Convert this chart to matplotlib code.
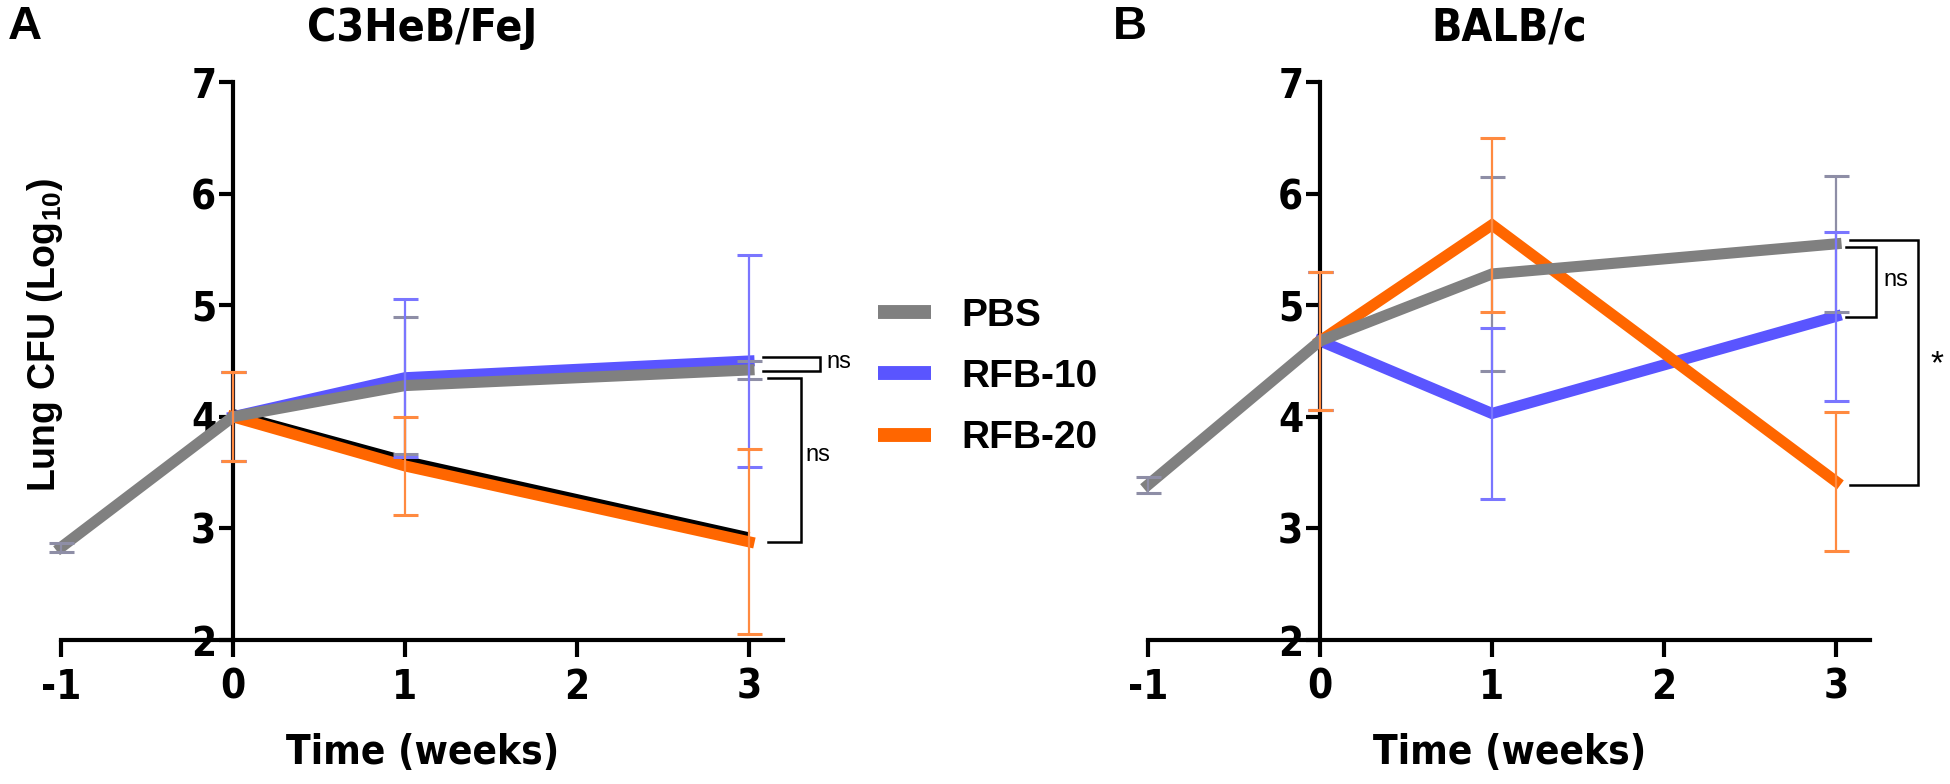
import matplotlib
matplotlib.use("Agg")
import matplotlib.pyplot as plt
from matplotlib import font_manager as fm
from matplotlib.lines import Line2D

# ---------------- data ----------------
groups = ["PBS", "RFB-10", "RFB-20"]
weeks_pbs = [-1, 0, 1, 3]
weeks_trt = [0, 1, 3]
x_ticks = [-1, 0, 1, 2, 3]
y_ticks = [2, 3, 4, 5, 6, 7]

# Panel A: C3HeB/FeJ
a_pbs_mean = [2.83, 4.00, 4.28, 4.42]
a_pbs_sd = [0.04, 0.40, 0.61, 0.08]
a_rfb10_mean = [4.00, 4.35, 4.50]
a_rfb10_sd = [0.40, 0.71, 0.95]
a_rfb20_mean = [4.00, 3.56, 2.88]
a_rfb20_sd = [0.40, 0.44, 0.83]
a_extra_mean = [4.02, 3.60, 2.915]  # thin black trace seen just above RFB-20

# Panel B: BALB/c
b_pbs_mean = [3.39, 4.68, 5.28, 5.55]
b_pbs_sd = [0.07, 0.62, 0.87, 0.61]
b_rfb10_mean = [4.68, 4.03, 4.90]
b_rfb10_sd = [0.62, 0.77, 0.76]
b_rfb20_mean = [4.68, 5.72, 3.42]
b_rfb20_sd = [0.62, 0.78, 0.62]

# significance brackets: (x_inner, x_outer, y_top, y_bottom, label, label_x, label_y)
a_brackets = [(3.08, 3.41, 4.54, 4.41, "ns", 3.45, 4.49),
              (3.11, 3.30, 4.35, 2.88, "ns", 3.33, 3.66)]
b_brackets = [(3.06, 3.23, 5.52, 4.89, "ns", 3.275, 5.23),
              (3.08, 3.476, 5.58, 3.39, "*", 3.59, 4.47)]

titles = ["C3HeB/FeJ", "BALB/c"]
panel_letters = ["A", "B"]

# ---------------- style ----------------
names = {f.name for f in fm.fontManager.ttflist}
arial = "Liberation Sans" if "Liberation Sans" in names else "DejaVu Sans"

cond_path = None
for f in fm.fontManager.ttflist:
    fn = f.fname.lower()
    if ("narrow" in fn or "condensed" in fn) and ("bold" in fn) and ("oblique" not in fn) \
            and ("italic" not in fn):
        if "liberation" in fn:
            cond_path = f.fname
            break
        if cond_path is None:
            cond_path = f.fname

def cond_font(size):
    if cond_path is not None:
        return fm.FontProperties(fname=cond_path, size=size)
    return fm.FontProperties(family=arial, weight="bold", size=size - 2)

tick_fp = cond_font(29)

plt.rcParams["font.family"] = [arial, "DejaVu Sans"]
plt.rcParams["axes.unicode_minus"] = False
plt.rcParams["mathtext.fontset"] = "custom"
plt.rcParams["mathtext.rm"] = arial + ":bold"
plt.rcParams["mathtext.default"] = "rm"

c_pbs = "#808080"
c_r10 = "#5a55ff"
c_r20 = "#ff6600"
e_pbs = "#8e8ea6"
e_r10 = "#7a76ff"
e_r20 = "#ff8a40"

LW = 8.0
fig = plt.figure(figsize=(19.5, 7.84), dpi=100)

def make_axes(left_frac):
    ax = fig.add_axes([left_frac, 0.18367, 0.3881, 0.71173])
    ax.set_xlim(-1.1, 3.3)
    ax.set_ylim(2, 7)
    for s in ["top", "right"]:
        ax.spines[s].set_visible(False)
    ax.spines["left"].set_position(("data", 0))
    ax.spines["left"].set_bounds(2, 7)
    ax.spines["bottom"].set_bounds(-1, 3.2)
    for s in ["left", "bottom"]:
        ax.spines[s].set_linewidth(3)
    ax.set_xticks(x_ticks)
    ax.set_yticks(y_ticks)
    ax.set_xticklabels([str(v) for v in x_ticks])
    ax.set_yticklabels([str(v) for v in y_ticks])
    ax.tick_params(axis="x", length=12, width=3, pad=8)
    ax.tick_params(axis="y", length=10, width=3, pad=2)
    for lab in ax.get_xticklabels() + ax.get_yticklabels():
        lab.set_fontproperties(tick_fp)
    ax.set_xlabel("Time (weeks)", fontproperties=cond_font(29), labelpad=18)
    ax.patch.set_alpha(0)
    return ax

def draw_panel(ax, pbs_m, pbs_sd, r10_m, r10_sd, r20_m, r20_sd, extra=None):
    eb_kw = dict(fmt="none", elinewidth=1.6, capsize=9, capthick=2.2, clip_on=False)
    ax.errorbar(weeks_pbs, pbs_m, yerr=pbs_sd, ecolor=e_pbs, zorder=5, **eb_kw)
    ax.errorbar(weeks_trt, r10_m, yerr=r10_sd, ecolor=e_r10, zorder=5, **eb_kw)
    ax.errorbar(weeks_trt, r20_m, yerr=r20_sd, ecolor=e_r20, zorder=5, **eb_kw)
    if extra is not None:
        ax.plot(weeks_trt, extra, color="black", lw=LW, zorder=2, clip_on=False,
                solid_capstyle="butt")
    ax.plot(weeks_trt, r10_m, color=c_r10, lw=LW, zorder=2, clip_on=False, solid_joinstyle="miter")
    ax.plot(weeks_trt, r20_m, color=c_r20, lw=LW, zorder=3, clip_on=False, solid_joinstyle="miter")
    ax.plot(weeks_pbs, pbs_m, color=c_pbs, lw=LW, zorder=4, clip_on=False, solid_joinstyle="miter")

def draw_brackets(ax, brackets):
    for xi, xo, yt, yb, lab, lx, ly in brackets:
        ax.plot([xi, xo, xo, xi], [yt, yt, yb, yb], color="black", lw=1.8,
                clip_on=False, zorder=6, solid_joinstyle="miter")
        if lab == "ns":
            ax.text(lx, ly, lab, fontsize=17, ha="left", va="center", fontfamily=arial,
                    clip_on=False)
        else:
            ax.text(lx, ly, lab, fontsize=24, ha="center", va="center", fontfamily=arial,
                    clip_on=False)

axA = make_axes(0.02246)
axB = make_axes(0.5799)
axA.set_ylabel("Lung CFU (Log$_{10}$)", fontweight="bold", fontsize=27)
axA.yaxis.set_label_coords(45 / 1950, 1 - 335 / 784, transform=fig.transFigure)
axA.yaxis.label.set_va("center")

draw_panel(axA, a_pbs_mean, a_pbs_sd, a_rfb10_mean, a_rfb10_sd, a_rfb20_mean, a_rfb20_sd, a_extra_mean)
draw_panel(axB, b_pbs_mean, b_pbs_sd, b_rfb10_mean, b_rfb10_sd, b_rfb20_mean, b_rfb20_sd)
draw_brackets(axA, a_brackets)
draw_brackets(axB, b_brackets)

for ax, t in zip([axA, axB], titles):
    ax.text(1.1, 7.48, t, ha="center", va="center", fontproperties=cond_font(32),
            clip_on=False)

fig.text(25 / 1950, 1 - 27 / 784, panel_letters[0], fontsize=34, fontweight="bold",
         ha="center", va="center", fontfamily=arial)
fig.text(1130 / 1950, 1 - 27 / 784, panel_letters[1], fontsize=34, fontweight="bold",
         ha="center", va="center", fontfamily=arial)

handles = [Line2D([], [], color=c, lw=10, solid_capstyle="butt") for c in (c_pbs, c_r10, c_r20)]
leg = fig.legend(handles, groups, loc="center left", bbox_to_anchor=(878 / 1950, 1 - 377 / 784),
                 frameon=False, handlelength=1.35, handletextpad=0.8, labelspacing=0.65,
                 borderpad=0, borderaxespad=0,
                 prop={"family": arial, "weight": "bold", "size": 28})

fig.savefig("out.png", dpi=100)
